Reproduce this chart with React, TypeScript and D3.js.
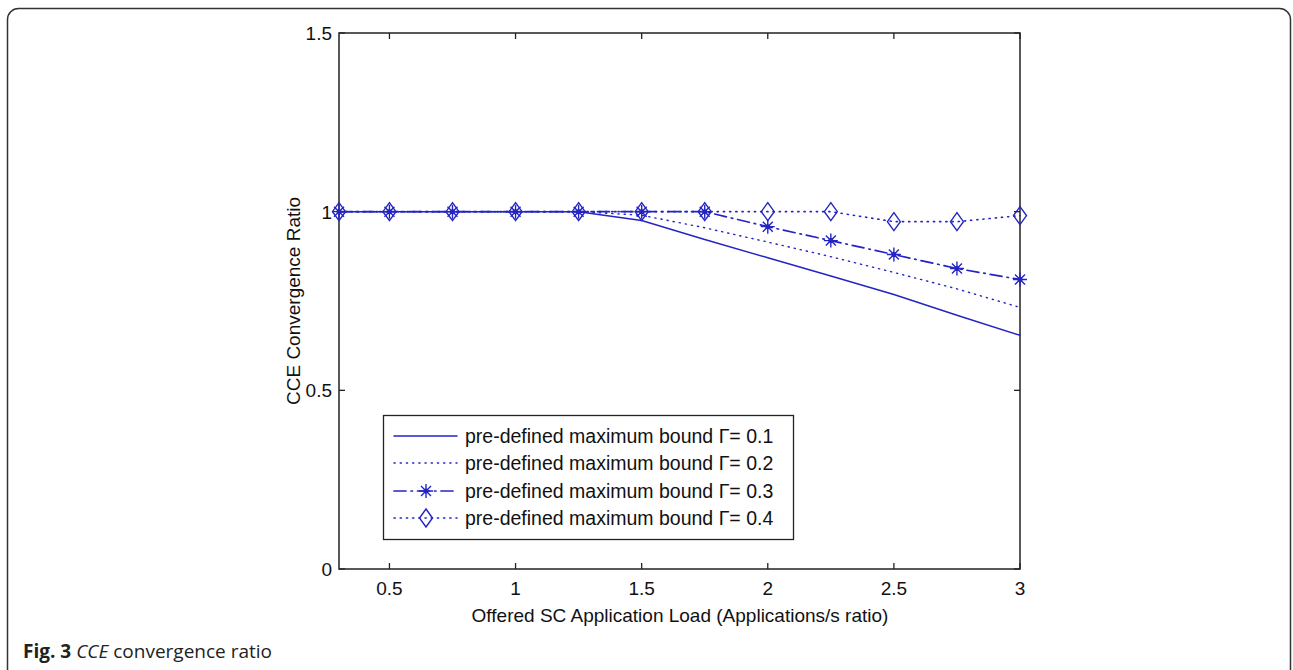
import React, {useRef, useEffect} from "react";
import * as d3 from "d3";

// offered load (x) values
const loads = [0.3, 0.5, 0.75, 1, 1.25, 1.5, 1.75, 2, 2.25, 2.5, 2.75, 3];

// convergence ratio per bound
const gamma01 = [1, 1, 1, 1, 1, 0.975, 0.922, 0.871, 0.82, 0.768, 0.71, 0.654];
const gamma02 = [1, 1, 1, 1, 1, 0.99, 0.955, 0.915, 0.874, 0.83, 0.784, 0.732];
const gamma03 = [1, 1, 1, 1, 1, 1, 1, 0.958, 0.919, 0.88, 0.841, 0.81];
const gamma04 = [1, 1, 1, 1, 1, 1, 1, 1, 1, 0.972, 0.972, 0.989];

const xTicks = [0.5, 1, 1.5, 2, 2.5, 3];
const yTicks = [0, 0.5, 1, 1.5];

const seriesLabels = [
  "pre-defined maximum bound \u0393= 0.1",
  "pre-defined maximum bound \u0393= 0.2",
  "pre-defined maximum bound \u0393= 0.3",
  "pre-defined maximum bound \u0393= 0.4",
];

const BLUE = "#2424c4";
const FONT = "Arial, 'Liberation Sans', sans-serif";

const App = () => {
  const ref = useRef<SVGSVGElement>(null);

  useEffect(() => {
    const svg = d3.select(ref.current);
    svg.selectAll("*").remove();

    const left = 339, right = 1020, top = 33, bottom = 569;
    const x = d3.scaleLinear().domain([0.3, 3]).range([left, right]);
    const y = d3.scaleLinear().domain([0, 1.5]).range([bottom, top]);

    // outer frame of the figure panel
    svg
      .append("rect")
      .attr("x", 7.5)
      .attr("y", 8.5)
      .attr("width", 1283)
      .attr("height", 700)
      .attr("rx", 11)
      .attr("fill", "none")
      .attr("stroke", "#333")
      .attr("stroke-width", 1.5);

    // axes box
    svg
      .append("rect")
      .attr("x", left)
      .attr("y", top)
      .attr("width", right - left)
      .attr("height", bottom - top)
      .attr("fill", "#fff")
      .attr("stroke", "#222")
      .attr("stroke-width", 1.5);

    const tk = 6;
    const axis = svg.append("g").attr("stroke", "#222").attr("stroke-width", 1.3);
    xTicks.forEach((t) => {
      axis.append("line").attr("x1", x(t)).attr("x2", x(t)).attr("y1", bottom).attr("y2", bottom - tk);
      axis.append("line").attr("x1", x(t)).attr("x2", x(t)).attr("y1", top).attr("y2", top + tk);
    });
    yTicks.forEach((t) => {
      axis.append("line").attr("x1", left).attr("x2", left + tk).attr("y1", y(t)).attr("y2", y(t));
      axis.append("line").attr("x1", right).attr("x2", right - tk).attr("y1", y(t)).attr("y2", y(t));
    });

    // tick labels
    svg
      .append("g")
      .selectAll("text")
      .data(xTicks)
      .enter()
      .append("text")
      .attr("x", (d) => x(d))
      .attr("y", bottom + 26)
      .attr("text-anchor", "middle")
      .style("font", `19px ${FONT}`)
      .attr("fill", "#111")
      .text((d) => d3.format("~g")(d));

    svg
      .append("g")
      .selectAll("text")
      .data(yTicks)
      .enter()
      .append("text")
      .attr("x", left - 7)
      .attr("y", (d) => y(d) + 7)
      .attr("text-anchor", "end")
      .style("font", `19px ${FONT}`)
      .attr("fill", "#111")
      .text((d) => d3.format("~g")(d));

    // axis titles
    svg
      .append("text")
      .attr("x", 680)
      .attr("y", 622)
      .attr("text-anchor", "middle")
      .style("font", `19px ${FONT}`)
      .attr("fill", "#111")
      .text("Offered SC Application Load (Applications/s ratio)");

    svg
      .append("text")
      .attr("transform", `translate(300, ${(top + bottom) / 2}) rotate(-90)`)
      .attr("text-anchor", "middle")
      .style("font", `19px ${FONT}`)
      .attr("fill", "#111")
      .text("CCE Convergence Ratio");

    // series lines
    const line = d3
      .line<number>()
      .x((_, i) => x(loads[i]))
      .y((d) => y(d));

    const styles = [
      {data: gamma01, dash: null, width: 1.5},
      {data: gamma02, dash: "1.2,5", width: 1.4},
      {data: gamma03, dash: "12,5,1.5,5", width: 1.7},
      {data: gamma04, dash: "1.2,5", width: 1.6},
    ];

    const plot = svg.append("g");
    styles.forEach((s) => {
      plot
        .append("path")
        .datum(s.data)
        .attr("d", line)
        .attr("fill", "none")
        .attr("stroke", BLUE)
        .attr("stroke-width", s.width)
        .attr("stroke-linecap", "round")
        .attr("stroke-dasharray", s.dash);
    });

    // marker helpers
    const star = (g: any, cx: number, cy: number) => {
      const r = 7, d = 5;
      g.append("path")
        .attr(
          "d",
          `M${cx - r},${cy}H${cx + r}M${cx},${cy - r}V${cy + r}` +
            `M${cx - d},${cy - d}L${cx + d},${cy + d}M${cx - d},${cy + d}L${cx + d},${cy - d}`
        )
        .attr("stroke", BLUE)
        .attr("stroke-width", 1.4)
        .attr("fill", "none");
      g.append("circle").attr("cx", cx).attr("cy", cy).attr("r", 2.5).attr("fill", BLUE);
    };
    const diamond = (g: any, cx: number, cy: number) => {
      const w = 6.5, h = 9;
      g.append("path")
        .attr("d", `M${cx},${cy - h}L${cx + w},${cy}L${cx},${cy + h}L${cx - w},${cy}Z`)
        .attr("stroke", BLUE)
        .attr("stroke-width", 1.4)
        .attr("fill", "none");
    };

    const marks = svg.append("g");
    gamma03.forEach((v, i) => star(marks, x(loads[i]), y(v)));
    gamma04.forEach((v, i) => diamond(marks, x(loads[i]), y(v)));

    // legend
    const lg = svg.append("g");
    lg.append("rect")
      .attr("x", 383.5)
      .attr("y", 415.5)
      .attr("width", 410)
      .attr("height", 124)
      .attr("fill", "#fff")
      .attr("stroke", "#222")
      .attr("stroke-width", 1.3);

    const rowY = [436, 463, 491, 518];
    seriesLabels.forEach((label, i) => {
      const ry = rowY[i];
      lg.append("line")
        .attr("x1", 394)
        .attr("x2", 457)
        .attr("y1", ry)
        .attr("y2", ry)
        .attr("stroke", BLUE)
        .attr("stroke-width", styles[i].width)
        .attr("stroke-linecap", "round")
        .attr("stroke-dasharray", styles[i].dash);
      if (i === 2) star(lg, 426, ry);
      if (i === 3) diamond(lg, 426, ry);
      lg.append("text")
        .attr("x", 465)
        .attr("y", ry + 7)
        .style("font", `19.5px ${FONT}`)
        .attr("fill", "#111")
        .text(label);
    });

    // caption
    const cap = svg
      .append("text")
      .attr("x", 23)
      .attr("y", 658)
      .style("font", "19px 'Open Sans', sans-serif")
      .attr("fill", "#222");
    cap.append("tspan").attr("font-weight", "bold").text("Fig. 3 ");
    cap.append("tspan").attr("font-style", "italic").text("CCE");
    cap.append("tspan").text(" convergence ratio");
  }, []);

  return (
    <svg
      ref={ref}
      width={1293}
      height={670}
      style={{position: "absolute", left: 0, top: 0, background: "#fff"}}
    ></svg>
  );
};

export default App;
